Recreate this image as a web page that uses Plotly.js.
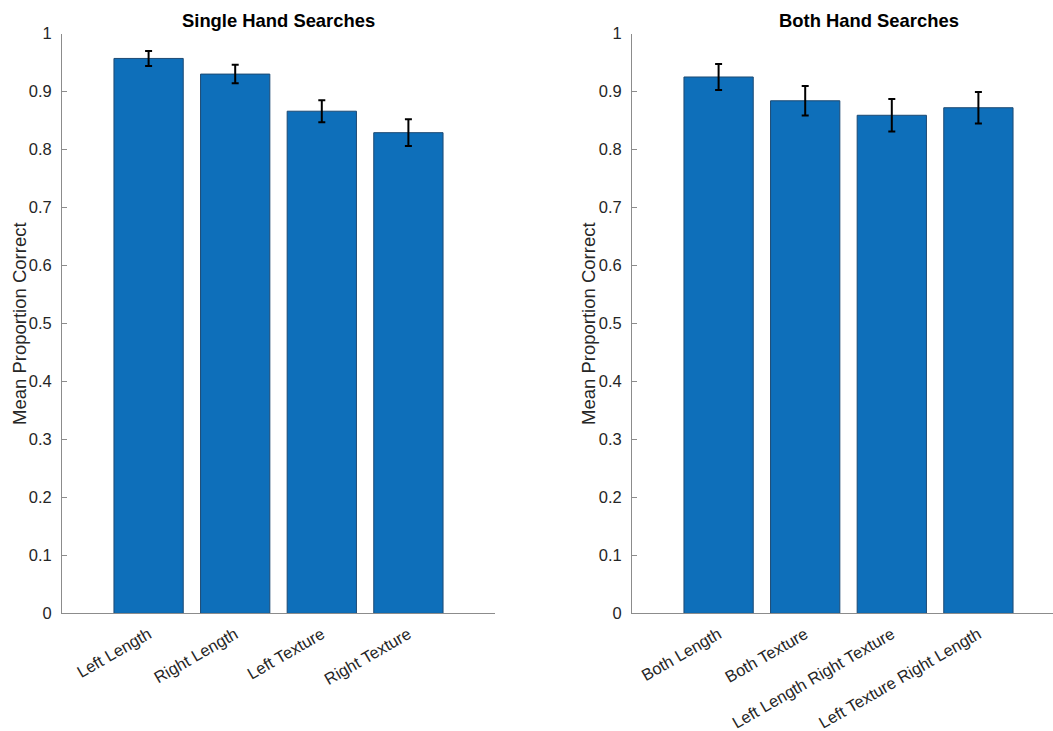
<!DOCTYPE html>
<html>
<head>
<meta charset="utf-8">
<script src="https://cdn.plot.ly/plotly-3.0.1.min.js"></script>
<style>html,body{margin:0;padding:0;background:#fff}#chart{width:1053px;height:731px}</style>
</head>
<body>
<div id="chart"></div>
<script>
const singleLabels = ["Left Length", "Right Length", "Left Texture", "Right Texture"];
const singleMeans = [0.957, 0.930, 0.866, 0.829];
const singleErr = [0.013, 0.016, 0.019, 0.023];

const bothLabels = ["Both Length", "Both Texture", "Left Length Right Texture", "Left Texture Right Length"];
const bothMeans = [0.925, 0.884, 0.859, 0.872];
const bothErr = [0.0225, 0.0255, 0.028, 0.027];

const yTicks = [0, 0.1, 0.2, 0.3, 0.4, 0.5, 0.6, 0.7, 0.8, 0.9, 1];
const yTickText = ["0", "0.1", "0.2", "0.3", "0.4", "0.5", "0.6", "0.7", "0.8", "0.9", "1"];

const barColor = "#0E6FBA";
const edgeColor = "#1d4a73";
const FONT = "Liberation Sans, Arial, sans-serif";

function barTrace(labels, means, errs, xa, ya) {
  return {
    type: "bar",
    x: labels.map((_, i) => i + 1),
    y: means,
    width: 0.8,
    marker: {color: barColor, line: {color: edgeColor, width: 1}},
    error_y: {type: "data", array: errs, visible: true, color: "#000", thickness: 2, width: 3.5},
    xaxis: xa, yaxis: ya,
    hoverinfo: "skip"
  };
}

const data = [
  barTrace(singleLabels, singleMeans, singleErr, "x", "y"),
  barTrace(bothLabels, bothMeans, bothErr, "x2", "y2")
];

const yDomain = [1 - 613.4 / 731, 1 - 33.5 / 731];
const axisCommon = {
  showgrid: false, zeroline: false, showline: true, linecolor: "#8c8c8c", linewidth: 1,
  tickfont: {family: FONT, size: 16.5, color: "#262626"}, fixedrange: true
};

function xAxis(domain, range, labels, anchor) {
  return Object.assign({}, axisCommon, {
    domain: domain, range: range, anchor: anchor,
    tickmode: "array", tickvals: labels.map((_, i) => i + 1), ticktext: labels,
    tickangle: -30, ticks: "", ticklabelstandoff: 4
  });
}
function yAxis(anchor) {
  return Object.assign({}, axisCommon, {
    domain: yDomain, range: [0, 1], anchor: anchor,
    tickmode: "array", tickvals: yTicks, ticktext: yTickText,
    ticks: "inside", ticklen: 5, tickcolor: "#8c8c8c", ticklabelstandoff: 6
  });
}

const layout = {
  width: 1053, height: 731,
  margin: {l: 0, r: 0, t: 0, b: 0},
  paper_bgcolor: "#fff", plot_bgcolor: "rgba(0,0,0,0)",
  showlegend: false,
  bargap: 0.2,
  xaxis: xAxis([62 / 1053, 495 / 1053], [0, 5], singleLabels, "y"),
  yaxis: yAxis("x"),
  xaxis2: xAxis([632 / 1053, 1], [0, 421 / 86.6], bothLabels, "y2"),
  yaxis2: yAxis("x2"),
  annotations: [
    {text: "<b>Single Hand Searches</b>", x: 278 / 1053, y: 1 - 21 / 731, xref: "paper", yref: "paper",
     xanchor: "center", yanchor: "middle", showarrow: false, font: {family: FONT, size: 18.4, color: "#000"}},
    {text: "<b>Both Hand Searches</b>", x: 869 / 1053, y: 1 - 21 / 731, xref: "paper", yref: "paper",
     xanchor: "center", yanchor: "middle", showarrow: false, font: {family: FONT, size: 18.4, color: "#000"}},
    {text: "Mean Proportion Correct", x: 20 / 1053, y: 1 - 324 / 731, xref: "paper", yref: "paper",
     xanchor: "center", yanchor: "middle", textangle: -90, showarrow: false, font: {family: FONT, size: 18.5, color: "#262626"}},
    {text: "Mean Proportion Correct", x: 589 / 1053, y: 1 - 324 / 731, xref: "paper", yref: "paper",
     xanchor: "center", yanchor: "middle", textangle: -90, showarrow: false, font: {family: FONT, size: 18.5, color: "#262626"}}
  ]
};

Plotly.newPlot("chart", data, layout, {displayModeBar: false, staticPlot: true});
</script>
</body>
</html>
